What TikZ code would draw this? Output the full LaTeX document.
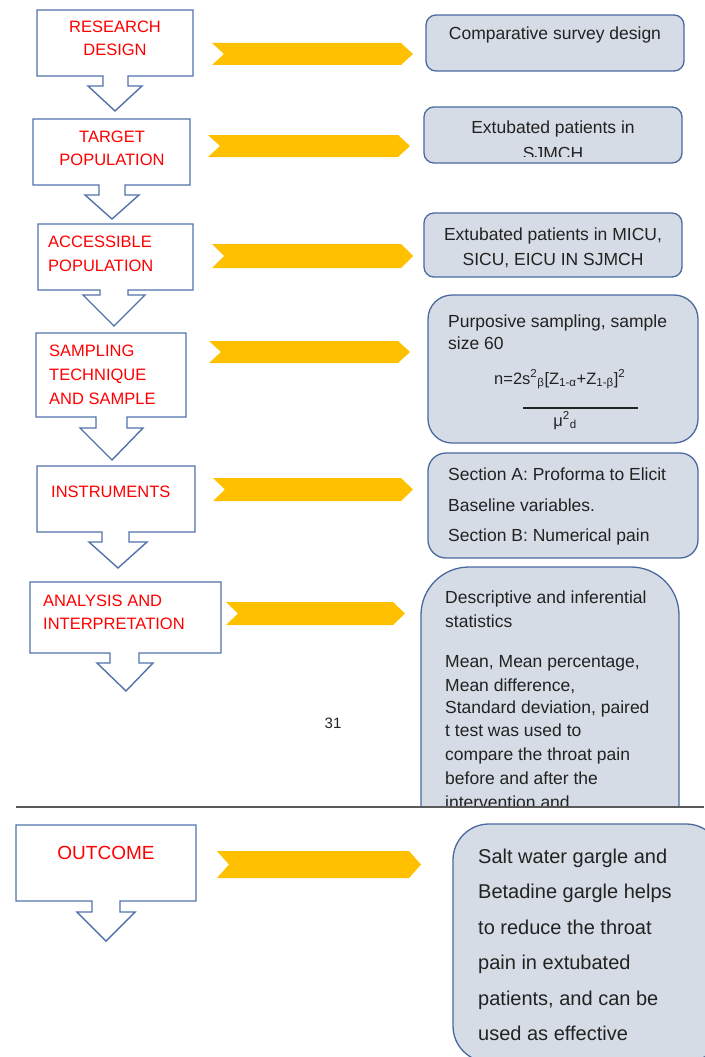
\documentclass[tikz,border=0pt]{standalone}
\usepackage{fontspec}
\setmainfont{Liberation Sans}
\definecolor{flowblue}{HTML}{5172AA}
\definecolor{boxblue}{HTML}{4A699F}
\definecolor{boxfill}{HTML}{D6DCE5}
\definecolor{chevyellow}{HTML}{FFC000}
\definecolor{txtgray}{HTML}{222222}
\definecolor{rulegray}{HTML}{5A5A5A}
\tikzset{
  flow/.style={draw=flowblue, line width=1.4pt, fill=white, line join=miter},
  infobox/.style={draw=boxblue, line width=1.3pt, fill=boxfill},
  chev/.style={fill=chevyellow, draw=none},
  lbl/.style={text=red, font=\fontsize{16.5}{20}\selectfont, inner sep=0pt},
  txt/.style={text=txtgray, font=\fontsize{17.5}{21}\selectfont, inner sep=0pt},
  bigtxt/.style={text=txtgray, font=\fontsize{20}{24}\selectfont, inner sep=0pt},
  formula/.style={text=txtgray, font=\fontsize{16.5}{19}\selectfont, inner sep=0pt},
}
\newcommand{\chevron}[4]{% x0, x1, ytop, ybottom
  \fill[chev] (#1,#3) -- ({#2-12},#3) -- (#2,{(#3+#4)/2}) -- ({#2-12},#4) -- (#1,#4) -- ({#1+12},{(#3+#4)/2}) -- cycle;}
\begin{document}
\begin{tikzpicture}[x=1pt,y=-1pt]
\useasboundingbox (0,0) rectangle (704,1057);

% ---------- left flow callouts ----------
\draw[flow] (37,10) -- (193,10) -- (193,76) -- (128,76) -- (128,86) -- (142,86) -- (115,111) -- (88,86) -- (103,86) -- (103,76) -- (37,76) -- cycle;
\draw[flow] (33,119) -- (190,119) -- (190,185) -- (125,185) -- (125,195) -- (139,195) -- (112,219) -- (85,195) -- (99,195) -- (99,185) -- (33,185) -- cycle;
\draw[flow] (38,224) -- (193,224) -- (193,290) -- (128,290) -- (128,295) -- (145,295) -- (114,326) -- (83,295) -- (100,295) -- (100,290) -- (38,290) -- cycle;
\draw[flow] (36,333) -- (186,333) -- (186,417) -- (127,417) -- (127,428) -- (143,428) -- (112,460) -- (80,428) -- (96,428) -- (96,417) -- (36,417) -- cycle;
\draw[flow] (37,466) -- (195,466) -- (195,532) -- (129,532) -- (129,542) -- (147,542) -- (118,568) -- (89,542) -- (102,542) -- (102,532) -- (37,532) -- cycle;
\draw[flow] (30,582) -- (221,582) -- (221,653) -- (139,653) -- (139,663) -- (153,663) -- (126,691) -- (97,663) -- (110,663) -- (110,653) -- (30,653) -- cycle;
\draw[flow] (16,825) -- (196,825) -- (196,901) -- (120,901) -- (120,912) -- (135,912) -- (106,941) -- (77,912) -- (92,912) -- (92,901) -- (16,901) -- cycle;

\node[lbl, anchor=base] (r1a) at (115,33) {RESEARCH};
\node[lbl, anchor=base] (r1b) at (115,56) {DESIGN};
\node[lbl, anchor=base] (r2a) at (112,142) {TARGET};
\node[lbl, anchor=base] (r2b) at (112,165) {POPULATION};
\node[lbl, anchor=base west] (r3a) at (48,247) {ACCESSIBLE};
\node[lbl, anchor=base west] (r3b) at (48,271) {POPULATION};
\node[lbl, anchor=base west] (r4a) at (49,356) {SAMPLING};
\node[lbl, anchor=base west] (r4b) at (49,380) {TECHNIQUE};
\node[lbl, anchor=base west] (r4c) at (49,404) {AND SAMPLE};
\node[lbl, anchor=base west] (r5a) at (51,497) {INSTRUMENTS};
\node[lbl, anchor=base west] (r6a) at (43,606) {ANALYSIS AND};
\node[lbl, anchor=base west] (r6b) at (43,629) {INTERPRETATION};
\node[lbl, anchor=base, font=\fontsize{19}{22}\selectfont] (r7a) at (106,859) {OUTCOME};

% ---------- yellow chevrons ----------
\chevron{212}{413}{43}{65}
\chevron{208}{410}{135}{157}
\chevron{212}{413}{244}{268}
\chevron{209}{410}{341}{363}
\chevron{213}{413}{478}{501}
\chevron{226}{405}{602}{625}
\chevron{217}{421}{851}{878}

% ---------- right info boxes ----------
\draw[infobox, rounded corners=10pt] (426,15) rectangle (684,71);
\node[txt, anchor=base] (b1) at (555,40) {Comparative survey design};

\draw[infobox, rounded corners=10pt] (424,107) rectangle (682,163);
\node[txt, anchor=base] (b2a) at (553,133) {Extubated patients in};
\begin{scope}
  \clip (424,107) rectangle (682,156);
  \node[txt, anchor=base] (b2b) at (553,159) {SJMCH};
\end{scope}

\draw[infobox, rounded corners=10pt] (424,213) rectangle (682,277);
\node[txt, anchor=base] (b3a) at (553,240) {Extubated patients in MICU,};
\node[txt, anchor=base] (b3b) at (553,265) {SICU, EICU IN SJMCH};

\draw[infobox, rounded corners=24pt] (428,295) rectangle (698,443);
\node[txt, anchor=base west] (b4a) at (448,327) {Purposive sampling, sample};
\node[txt, anchor=base west] (b4b) at (448,349) {size 60};
\node[formula, anchor=base west] (f1) at (494,384) {n=2s\textsuperscript{2}\textsubscript{β}[Z\textsubscript{1-α}+Z\textsubscript{1-β}]\textsuperscript{2}};
\draw[txtgray, line width=1.2pt] (523,408) -- (638,408);
\node[formula, anchor=base] (f2) at (565,426) {μ\textsuperscript{2}\textsubscript{d}};

\draw[infobox, rounded corners=18pt] (428,453) rectangle (698,558);
\node[txt, anchor=base west] (b5a) at (448,480) {Section A: Proforma to Elicit};
\node[txt, anchor=base west] (b5b) at (448,511) {Baseline variables.};
\node[txt, anchor=base west] (b5c) at (448,541) {Section B: Numerical pain};

\begin{scope}
  \clip (0,0) rectangle (704,806);
  \draw[infobox, rounded corners=48pt] (421,567) rectangle (679,900);
  \node[txt, anchor=base west] (b6a) at (445,603) {Descriptive and inferential};
  \node[txt, anchor=base west] (b6b) at (445,627) {statistics};
  \node[txt, anchor=base west] (b6c) at (445,667) {Mean, Mean percentage,};
  \node[txt, anchor=base west] (b6d) at (445,691) {Mean difference,};
  \node[txt, anchor=base west] (b6e) at (445,713) {Standard deviation, paired};
  \node[txt, anchor=base west] (b6f) at (445,736) {t test was used to};
  \node[txt, anchor=base west] (b6g) at (445,760) {compare the throat pain};
  \node[txt, anchor=base west] (b6h) at (445,784) {before and after the};
  \node[txt, anchor=base west] (b6i) at (445,808) {intervention and};
\end{scope}

\node[text=txtgray, font=\fontsize{15}{18}\selectfont, inner sep=0pt, anchor=base] (pg) at (333,728) {31};
\draw[rulegray, line width=1.3pt] (16,807) -- (704,807);

\draw[infobox, rounded corners=36pt] (453,824) rectangle (722,1062);
\node[bigtxt, anchor=base west] (b7a) at (478,863) {Salt water gargle and};
\node[bigtxt, anchor=base west] (b7b) at (478,898) {Betadine gargle helps};
\node[bigtxt, anchor=base west] (b7c) at (478,934) {to reduce the throat};
\node[bigtxt, anchor=base west] (b7d) at (478,969) {pain in extubated};
\node[bigtxt, anchor=base west] (b7e) at (478,1005) {patients, and can be};
\node[bigtxt, anchor=base west] (b7f) at (478,1040) {used as effective};
\end{tikzpicture}
\end{document}
